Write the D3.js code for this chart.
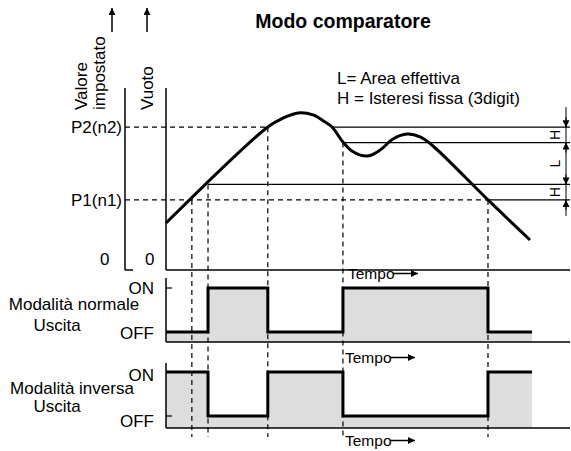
<!DOCTYPE html>
<html>
<head>
<meta charset="utf-8">
<script src="https://cdn.jsdelivr.net/npm/d3@7"></script>
<style>
  body { margin: 0; background: #fff; }
  text { font-family: "Liberation Sans", Arial, sans-serif; fill: #000; }
</style>
</head>
<body>
<svg id="chart" width="571" height="451"></svg>
<script>
// values
var P1 = 38.5, P2 = 78.5, H = 8.5;           // set points and hysteresis (vacuum units)
var curveT = [0, 25.2, 29.0, 32.7, 36.4, 39.4, 41.1, 43.8, 46.0, 49.8, 53.0, 56.2, 59.7, 62.9, 65.8, 79.7, 90.1];
var curveV = [25.8, 78.6, 83.5, 86.3, 85.2, 81.3, 78.6, 70.3, 65.4, 62.6, 65.9, 72.0, 74.7, 73.1, 68.7, 38.5, 16.5];
// crossings of the vacuum curve with the threshold levels
var crossT = [6.4, 10.4, 25.2, 43.8, 79.7];
var crossV = [P1, P1 + H, P2, P2 - H, P1];
// output switching
var stepT = [0, 10.4, 25.2, 43.8, 79.7, 90.6];
var normalState  = [0, 1, 0, 1, 0, 0];
var inverseState = [1, 0, 1, 0, 1, 1];
var tEnd = 100;

var svg = d3.select("#chart");

// setup scales
var x = d3.scaleLinear().domain([0, 100]).range([166, 570]);
var y = d3.scaleLinear().domain([0, 100]).range([270, 88]);
var yNorm = d3.scaleLinear().domain([0, 1]).range([332, 288]),
    yInv  = d3.scaleLinear().domain([0, 1]).range([416, 372]);
var baseNorm = 342, baseInv = 428, axis2X = 125;

// arrowhead markers
var defs = svg.append("defs");
defs.append("marker")
    .attr("id", "arr")
    .attr("viewBox", "0 0 10 10")
    .attr("refX", 10).attr("refY", 5)
    .attr("markerWidth", 9).attr("markerHeight", 7)
    .attr("markerUnits", "userSpaceOnUse")
    .attr("orient", "auto")
  .append("path").attr("d", "M0,0L10,5L0,10z").attr("fill", "#000");

function line(x1, y1, x2, y2, w, dash) {
  var l = svg.append("line")
      .attr("x1", x1).attr("y1", y1).attr("x2", x2).attr("y2", y2)
      .attr("stroke", "#000").attr("stroke-width", w || 1.2);
  if (dash) l.attr("stroke-dasharray", dash);
  return l;
}
function label(tx, ty, s, size, anchor) {
  return svg.append("text")
      .attr("x", tx).attr("y", ty)
      .attr("font-size", size || 17)
      .attr("text-anchor", anchor || "start")
      .text(s);
}

// title and legend
label(343, 28, "Modo comparatore", 19.5, "middle").attr("font-weight", "bold");
label(337, 84, "L= Area effettiva");
label(337, 104, "H = Isteresi fissa (3digit)");

// output panels: grey fill under the signal
var panels = [
  {state: normalState, y: yNorm, base: baseNorm},
  {state: inverseState, y: yInv, base: baseInv}
];
panels.forEach(function(p) {
  var pts = stepT.map(function(t, i) { return [t, p.state[i]]; });
  svg.append("path")
      .datum(pts)
      .attr("fill", "#dddddd")
      .attr("d", d3.area().curve(d3.curveStepAfter)
        .x(function(d) { return x(d[0]); })
        .y0(p.base)
        .y1(function(d) { return p.y(d[1]); }));
});

// dashed guides from the crossings down through the panels
crossT.forEach(function(t, i) {
  line(x(t), y(crossV[i]), x(t), 437, 1.2, "5,4");
});

// horizontal threshold lines
line(axis2X, y(P2), x(25.2), y(P2), 1.2, "5,4");
line(axis2X, y(P1), x(79.7), y(P1), 1.2, "5,4");
line(x(41.1), y(P2), x(tEnd), y(P2));
line(x(43.8), y(P2 - H), x(tEnd), y(P2 - H));
line(x(10.4), y(P1 + H), x(tEnd), y(P1 + H));
line(x(79.7), y(P1), x(tEnd), y(P1));

// H / L dimension
var dimX = 566;
line(dimX, y(P2) - 20, dimX, y(P1) + 16, 1);
[[P2, -1], [P2 - H, 1], [P1 + H, -1], [P1, 1]].forEach(function(a) {
  var ty = y(a[0]);
  line(dimX, ty + a[1] * 10, dimX, ty, 1).attr("marker-end", "url(#arr)");
});
[[P2 - H / 2, "H"], [(P1 + H + P2 - H) / 2, "L"], [P1 + H / 2, "H"]].forEach(function(a) {
  svg.append("text")
      .attr("transform", "translate(560," + y(a[0]) + ") rotate(-90)")
      .attr("font-size", 14)
      .attr("text-anchor", "middle")
      .text(a[1]);
});

// vacuum curve
svg.append("path")
    .datum(curveT.map(function(t, i) { return [t, curveV[i]]; }))
    .attr("fill", "none")
    .attr("stroke", "#000")
    .attr("stroke-width", 3)
    .attr("stroke-linejoin", "round")
    .attr("d", d3.line().curve(d3.curveCatmullRom.alpha(0.5))
      .x(function(d) { return x(d[0]); })
      .y(function(d) { return y(d[1]); }));

// output signals
panels.forEach(function(p) {
  svg.append("path")
      .datum(stepT.map(function(t, i) { return [t, p.state[i]]; }))
      .attr("fill", "none")
      .attr("stroke", "#000")
      .attr("stroke-width", 3)
      .attr("d", d3.line().curve(d3.curveStepAfter)
        .x(function(d) { return x(d[0]); })
        .y(function(d) { return p.y(d[1]); }));
});

// main axes
line(axis2X, y(100), axis2X, y(0), 1.5);
line(axis2X, y(0), axis2X + 8, y(0), 1.5);
line(x(0), y(100), x(0), y(0), 1.5);
line(x(0), y(0), x(tEnd), y(0), 1.5);
label(100, 265, "0");
label(145, 265, "0");
label(122, 133, "P2(n2)", 17, "end");
label(122, 206, "P1(n1)", 17, "end");

// rotated axis titles with arrows
[[87, "Valore"], [105, "impostato"], [153, "Vuoto"]].forEach(function(a) {
  svg.append("text")
      .attr("transform", "translate(" + a[0] + ",110) rotate(-90)")
      .attr("font-size", 17)
      .text(a[1]);
});
line(112, 32, 112, 8, 1.5).attr("marker-end", "url(#arr)");
line(147, 32, 147, 8, 1.5).attr("marker-end", "url(#arr)");

// panel axes
line(x(0), 278, x(0), baseNorm, 1.5);
line(x(0), baseNorm, x(tEnd), baseNorm, 1.5);
line(x(0), yNorm(1), x(0) + 6, yNorm(1), 1.2);
line(x(0), 363, x(0), baseInv, 1.5);
line(x(0), baseInv, x(tEnd), baseInv, 1.5);
line(x(0), yInv(0), x(0) + 6, yInv(0), 1.2);

label(154, 294, "ON", 17, "end");
label(154, 339, "OFF", 17, "end");
label(74, 310, "Modalità normale", 17, "middle");
label(57, 331, "Uscita", 17, "middle");
label(154, 381, "ON", 17, "end");
label(154, 427, "OFF", 17, "end");
label(72, 394, "Modalità inversa", 17, "middle");
label(57, 412, "Uscita", 17, "middle");

// time labels
[[348, 279], [345, 363], [345, 446]].forEach(function(a) {
  label(a[0], a[1], "Tempo", 15.5);
  line(a[0] + 45, a[1] - 5.5, a[0] + 70, a[1] - 5.5, 1.5).attr("marker-end", "url(#arr)");
});
</script>
</body>
</html>
